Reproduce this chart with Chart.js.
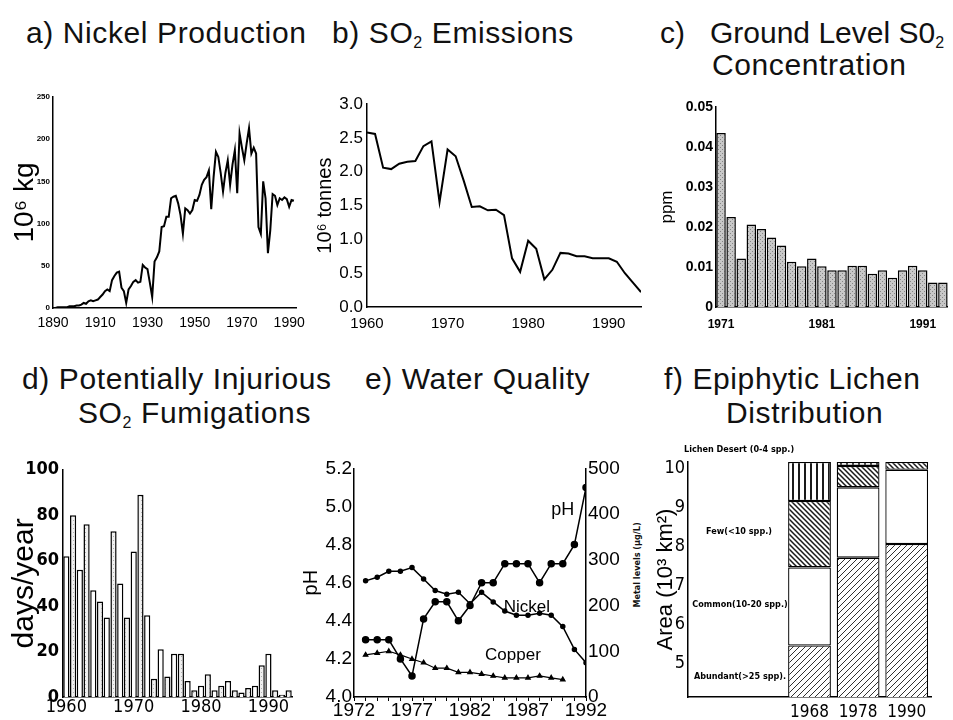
<!DOCTYPE html>
<html>
<head>
<meta charset="utf-8">
<title>Sudbury environmental trends</title>
<script src="https://cdn.jsdelivr.net/npm/chart.js@4.4.1/dist/chart.umd.min.js"></script>
<style>
  body { margin: 0; background: #fff; }
  #page { position: relative; width: 953px; height: 720px; overflow: hidden; color: #111;
          font-family: 'Liberation Sans', Arial, Helvetica, sans-serif; }
  canvas { position: absolute; }
  .t { position: absolute; font-size: 30px; line-height: 34px; white-space: nowrap; letter-spacing: 0.6px; }
  .t sub { font-size: 16px; line-height: 0; vertical-align: -5px; }
  .side { position: absolute; font: bold 9px 'Liberation Sans Narrow', 'DejaVu Sans Condensed', 'Liberation Sans', sans-serif;
          white-space: nowrap; transform: rotate(-90deg); }
</style>
</head>
<body>
<div id="page">
  <div class="t" style="left:26px;top:16px">a) Nickel Production</div>
  <div class="t" style="left:332px;top:16px">b) SO<sub>2</sub> Emissions</div>
  <div class="t" style="left:660px;top:16px;letter-spacing:0">c)&nbsp;&nbsp; Ground Level S0<sub>2</sub></div>
  <div class="t" style="left:712px;top:48px">Concentration</div>

  <div class="t" style="left:22px;top:362px">d) Potentially Injurious</div>
  <div class="t" style="left:78px;top:396px">SO<sub>2</sub> Fumigations</div>
  <div class="t" style="left:365px;top:362px">e) Water Quality</div>
  <div class="t" style="left:664px;top:362px">f) Epiphytic Lichen</div>
  <div class="t" style="left:726px;top:396px">Distribution</div>

  <div class="side" style="left:594px;top:560px">Metal levels (µg/L)</div>

  <canvas id="chartA" width="312" height="245" style="left:0;top:88px"></canvas>
  <canvas id="chartB" width="335" height="245" style="left:312px;top:90px"></canvas>
  <canvas id="chartC" width="313" height="235" style="left:640px;top:95px"></canvas>
  <canvas id="chartD" width="300" height="265" style="left:0;top:455px"></canvas>
  <canvas id="chartE" width="347" height="265" style="left:298px;top:455px"></canvas>
  <canvas id="chartF" width="313" height="280" style="left:640px;top:440px"></canvas>
</div>

<script>
// ---- a) Nickel production, 10^6 kg per year
const nickelYears = [
  1890, 1891, 1892, 1893, 1894, 1895, 1896, 1897, 1898, 1899,
  1900, 1901, 1902, 1903, 1904, 1905, 1906, 1907, 1908, 1909,
  1910, 1911, 1912, 1913, 1914, 1915, 1916, 1917, 1918, 1919,
  1920, 1921, 1922, 1923, 1924, 1925, 1926, 1927, 1928, 1929,
  1930, 1931, 1932, 1933, 1934, 1935, 1936, 1937, 1938, 1939,
  1940, 1941, 1942, 1943, 1944, 1945, 1946, 1947, 1948, 1949,
  1950, 1951, 1952, 1953, 1954, 1955, 1956, 1957, 1958, 1959,
  1960, 1961, 1962, 1963, 1964, 1965, 1966, 1967, 1968, 1969,
  1970, 1971, 1972, 1973, 1974, 1975, 1976, 1977, 1978, 1979,
  1980, 1981, 1982, 1983, 1984, 1985, 1986, 1987, 1988, 1989,
  1990, 1991, 1992
];
const nickelOutput = [
  0, 0, 1, 1, 1, 1, 1, 2, 2, 2,
  3, 3, 4, 6, 5, 8, 9, 8, 9, 10,
  13, 16, 20, 22, 20, 33, 38, 42, 43, 24,
  20, 6, 22, 26, 31, 33, 30, 31, 51, 48,
  46, 30, 13, 55, 60, 67, 96, 97, 108, 108,
  130, 132, 133, 124, 110, 88, 118, 116, 112, 116,
  128, 127, 134, 146, 152, 155, 163, 117, 155, 185,
  179, 160, 138, 160, 175, 146, 170, 187, 136, 207,
  190, 175, 195, 213, 183, 190, 183, 96, 88, 150,
  130, 65, 92, 135, 133, 122, 130, 128, 131, 129,
  120, 128, 127
];
const nickelTickYears = [1890, 1910, 1930, 1950, 1970, 1990];
const nickelTicks = [0, 50, 100, 150, 200, 250];

// ---- b) SO2 emissions, 10^6 tonnes
const so2Years = [
  1960, 1961, 1962, 1963, 1964, 1965, 1966, 1967, 1968, 1969,
  1970, 1971, 1972, 1973, 1974, 1975, 1976, 1977, 1978, 1979,
  1980, 1981, 1982, 1983, 1984, 1985, 1986, 1987, 1988, 1989,
  1990, 1991, 1992, 1993, 1994
];
const so2Emissions = [
  2.58, 2.56, 2.06, 2.04, 2.12, 2.15, 2.16, 2.38, 2.45, 1.55,
  2.33, 2.23, 1.87, 1.48, 1.49, 1.43, 1.44, 1.36, 0.72, 0.52,
  0.98, 0.86, 0.41, 0.55, 0.80, 0.79, 0.75, 0.75, 0.72, 0.72,
  0.72, 0.67, 0.50, 0.36, 0.22
];
const so2TickYears = [1960, 1970, 1980, 1990];
const so2Ticks = [0, 0.5, 1.0, 1.5, 2.0, 2.5, 3.0];

// ---- c) Ground level SO2, ppm
const groundYears = [
  '1971', '1972', '1973', '1974', '1975', '1976', '1977', '1978', '1979', '1980',
  '1981', '1982', '1983', '1984', '1985', '1986', '1987', '1988', '1989', '1990',
  '1991', '1992', '1993'
];
const groundPpm = [
  0.0435, 0.0225, 0.0121, 0.0206, 0.0195, 0.0174, 0.0154, 0.0113, 0.0102, 0.0121,
  0.0102, 0.0092, 0.0092, 0.0103, 0.0103, 0.0083, 0.0092, 0.0073, 0.0092, 0.0103,
  0.0092, 0.0061, 0.0061
];
const groundTickLabels = ['1971', '1981', '1991'];
const groundTicks = [0, 0.01, 0.02, 0.03, 0.04, 0.05];

// ---- d) Potentially injurious SO2 fumigations, days/year
const fumigationYears = [
  '1960', '1961', '1962', '1963', '1964', '1965', '1966', '1967', '1968', '1969',
  '1970', '1971', '1972', '1973', '1974', '1975', '1976', '1977', '1978', '1979',
  '1980', '1981', '1982', '1983', '1984', '1985', '1986', '1987', '1988', '1989',
  '1990', '1991', '1992', '1993'
];
const fumigationDays = [
  62, 80, 56, 76, 47, 42, 35, 73, 50, 35,
  64, 89, 36, 8, 21, 9, 19, 19, 7, 3,
  5, 10, 3, 5, 7, 3, 2, 4, 5, 14,
  19, 3, 1, 3
];
const fumigationTickLabels = ['1960', '1970', '1980', '1990'];
const fumigationTicks = [0, 20, 40, 60, 80, 100];

// ---- e) Water quality: pH (left) and metal levels in ug/L (right)
const waterYears = [
  1973, 1974, 1975, 1976, 1977, 1978, 1979, 1980, 1981, 1982,
  1983, 1984, 1985, 1986, 1987, 1988, 1989, 1990, 1991, 1992
];
const lakePH = [
  4.30, 4.30, 4.30, 4.20, 4.11, 4.41, 4.50, 4.50, 4.40, 4.48,
  4.60, 4.60, 4.70, 4.70, 4.70, 4.60, 4.70, 4.70, 4.80, 5.10
];
const nickelLevel = [
  254, 262, 275, 275, 283, 258, 233, 225, 229, 204,
  229, 208, 188, 179, 179, 183, 179, 154, 104, 75
];
const copperYears = [
  1973, 1974, 1975, 1976, 1977, 1978, 1979, 1980, 1981, 1982,
  1983, 1984, 1985, 1986, 1987, 1988, 1989, 1990
];
const copperLevel = [
  92, 96, 100, 92, 83, 75, 63, 63, 54, 54,
  50, 46, 42, 42, 42, 46, 42, 38
];
const waterTickYears = [1972, 1977, 1982, 1987, 1992];
const phTicks = [4.0, 4.2, 4.4, 4.6, 4.8, 5.0, 5.2];
const metalTicks = [0, 100, 200, 300, 400, 500];

// ---- f) Epiphytic lichen distribution, area 10^3 km2 (stacked)
const lichenYears = ['1968', '1978', '1990'];
const lichenAbundant = [5.45, 7.70, 8.05];
const lichenCommon = [2.00, 1.80, 1.90];
const lichenFew = [1.70, 0.55, 0.20];
const lichenDesert = [1.00, 0.10, 0];
const lichenClasses = ['Abundant(>25 spp).', 'Common(10-20 spp.)', 'Few(<10 spp.)', 'Lichen Desert (0-4 spp.)'];
const lichenTicks = [5, 6, 7, 8, 9, 10];


Chart.defaults.font.family = "'Liberation Sans', Arial, sans-serif";
Chart.defaults.color = '#000';
Chart.defaults.animation = false;
Chart.defaults.plugins.legend.display = false;
Chart.defaults.plugins.tooltip.enabled = false;

const narrow = "'Liberation Sans Narrow', 'DejaVu Sans Condensed', 'Liberation Sans', Arial, sans-serif";
const axisBorder = { display: true, color: '#000', width: 1.5 };
const noGrid = { display: false, drawTicks: false, tickLength: 0 };

// Helpers to pin the axis boxes so every panel lines up like the original figure
function fixedWidth(w) { return scale => { scale.width = w; }; }
function fixedHeight(h) { return scale => { scale.height = h; }; }
function useTicks(list) { return scale => { scale.ticks = list.map(v => ({ value: v })); }; }

// Text drawn inside a chart at data coordinates
const textLabels = {
  id: 'textLabels',
  afterDraw(chart, args, opts) {
    if (!opts.items) return;
    const ctx = chart.ctx;
    ctx.save();
    ctx.fillStyle = '#000';
    ctx.textAlign = 'center';
    ctx.textBaseline = 'middle';
    opts.items.forEach(item => {
      ctx.font = item.font;
      const x = chart.scales.x.getPixelForValue(item.x);
      const y = chart.scales[item.axis || 'y'].getPixelForValue(item.y);
      ctx.fillText(item.text, x, y);
    });
    ctx.restore();
  }
};
Chart.register(textLabels);

// Fill patterns (hatching / stipple) for the bar panels
function makePattern(size, base, draw) {
  const c = document.createElement('canvas');
  c.width = size; c.height = size;
  const g = c.getContext('2d');
  g.fillStyle = base;
  g.fillRect(0, 0, size, size);
  g.strokeStyle = '#1a1a1a';
  g.fillStyle = '#1a1a1a';
  draw(g, size);
  return g.createPattern(c, 'repeat');
}
const stippleGray = makePattern(4, '#c8c8c8', (g) => {
  g.fillStyle = '#858585';
  g.fillRect(0, 0, 1, 1);
  g.fillRect(2, 2, 1, 1);
});
const stippleLight = makePattern(4, '#f0f0f0', (g) => {
  g.fillStyle = '#b0b0b0';
  g.fillRect(1, 1, 1, 1);
});
const slashFill = makePattern(6, '#fff', (g, s) => {
  g.lineWidth = 0.9;
  g.beginPath();
  g.moveTo(0, s); g.lineTo(s, 0);
  g.moveTo(-1, 1); g.lineTo(1, -1);
  g.moveTo(s - 1, s + 1); g.lineTo(s + 1, s - 1);
  g.stroke();
});
const backslashFill = makePattern(5, '#fff', (g, s) => {
  g.lineWidth = 1.5;
  g.beginPath();
  g.moveTo(0, 0); g.lineTo(s, s);
  g.moveTo(s - 1, -1); g.lineTo(s + 1, 1);
  g.moveTo(-1, s - 1); g.lineTo(1, s + 1);
  g.stroke();
});
const verticalFill = makePattern(6, '#fff', (g) => {
  g.fillRect(2, 0, 2, 6);
});


// a) Nickel Production
new Chart(document.getElementById('chartA'), {
  type: 'line',
  data: {
    datasets: [{
      data: nickelYears.map((yr, i) => ({ x: yr, y: nickelOutput[i] })),
      borderColor: '#000',
      borderWidth: 2,
      pointRadius: 0,
      tension: 0
    }]
  },
  options: {
    responsive: false,
    layout: { padding: { top: 9, right: 9, left: 0, bottom: 0 } },
    scales: {
      x: {
        type: 'linear', min: 1890, max: 1993,
        afterBuildTicks: useTicks(nickelTickYears), afterFit: fixedHeight(25),
        grid: noGrid, border: axisBorder,
        ticks: { font: { size: 14 }, padding: 7, maxRotation: 0, autoSkip: false, callback: v => String(v) }
      },
      y: {
        min: 0, max: 250,
        afterBuildTicks: useTicks(nickelTicks), afterFit: fixedWidth(53),
        grid: noGrid, border: axisBorder,
        ticks: { font: { size: 8, weight: 'bold' }, padding: 3, autoSkip: false },
        title: { display: true, text: '10⁶ kg', font: { size: 28 }, padding: { top: 8, bottom: 0 } }
      }
    }
  }
});

// b) SO2 Emissions
new Chart(document.getElementById('chartB'), {
  type: 'line',
  data: {
    datasets: [{
      data: so2Years.map((yr, i) => ({ x: yr, y: so2Emissions[i] })),
      borderColor: '#000',
      borderWidth: 2,
      pointRadius: 0,
      tension: 0
    }]
  },
  options: {
    responsive: false,
    layout: { padding: { top: 13, right: 6, left: 0, bottom: 0 } },
    scales: {
      x: {
        type: 'linear', min: 1960, max: 1994,
        afterBuildTicks: useTicks(so2TickYears), afterFit: fixedHeight(28),
        grid: noGrid, border: axisBorder,
        ticks: { font: { size: 15 }, padding: 8, maxRotation: 0, autoSkip: false, callback: v => String(v) }
      },
      y: {
        min: 0, max: 3,
        afterBuildTicks: useTicks(so2Ticks), afterFit: fixedWidth(55),
        grid: noGrid, border: axisBorder,
        ticks: { font: { size: 17 }, padding: 4, autoSkip: false, callback: v => v.toFixed(1) },
        title: { display: true, text: '10⁶ tonnes', font: { size: 20 }, padding: { top: 1, bottom: 0 } }
      }
    }
  }
});

// c) Ground Level SO2 Concentration
new Chart(document.getElementById('chartC'), {
  type: 'bar',
  data: {
    labels: groundYears,
    datasets: [{
      data: groundPpm,
      backgroundColor: stippleGray,
      borderColor: '#000',
      borderWidth: 1.5,
      borderSkipped: 'bottom',
      barPercentage: 0.94,
      categoryPercentage: 1
    }]
  },
  options: {
    responsive: false,
    layout: { padding: { top: 12, right: 5, left: 0, bottom: 0 } },
    scales: {
      x: {
        afterFit: fixedHeight(23),
        grid: { display: false, drawTicks: false, tickLength: 0, offset: true }, border: axisBorder,
        ticks: {
          font: { size: 12, weight: 'bold' }, padding: 10, maxRotation: 0, autoSkip: false,
          callback: (v, i) => groundTickLabels.includes(groundYears[i]) ? groundYears[i] : ''
        }
      },
      y: {
        min: 0, max: 0.05,
        afterBuildTicks: useTicks(groundTicks), afterFit: fixedWidth(76),
        grid: noGrid, border: axisBorder,
        ticks: { font: { size: 14, weight: 'bold' }, padding: 3, autoSkip: false, callback: v => v === 0 ? '0' : v.toFixed(2) },
        title: { display: true, text: 'ppm', font: { size: 17 }, padding: { top: 17, bottom: 0 } }
      }
    }
  }
});

// d) Potentially Injurious SO2 Fumigations
new Chart(document.getElementById('chartD'), {
  type: 'bar',
  data: {
    labels: fumigationYears,
    datasets: [{
      data: fumigationDays,
      backgroundColor: fumigationDays.map((v, i) => i % 2 ? stippleLight : '#fff'),
      borderColor: '#000',
      borderWidth: 1.5,
      borderSkipped: 'bottom',
      barPercentage: 0.92,
      categoryPercentage: 1
    }]
  },
  options: {
    responsive: false,
    layout: { padding: { top: 12, right: 8, left: 0, bottom: 0 } },
    scales: {
      x: {
        afterFit: fixedHeight(23),
        grid: { display: false, drawTicks: false, tickLength: 0, offset: true }, border: axisBorder,
        ticks: {
          font: { size: 18, family: narrow }, padding: 0, maxRotation: 0, autoSkip: false,
          callback: (v, i) => fumigationTickLabels.includes(fumigationYears[i]) ? fumigationYears[i] : ''
        }
      },
      y: {
        min: 0, max: 100,
        afterBuildTicks: useTicks(fumigationTicks), afterFit: fixedWidth(63),
        grid: noGrid, border: axisBorder,
        ticks: { font: { size: 18, weight: 'bold', family: narrow }, padding: 4, autoSkip: false },
        title: { display: true, text: 'days/year', font: { size: 30 }, padding: { top: 7, bottom: 0 } }
      }
    }
  }
});

// e) Water Quality
new Chart(document.getElementById('chartE'), {
  type: 'line',
  data: {
    datasets: [
      {
        data: waterYears.map((yr, i) => ({ x: yr, y: lakePH[i] })),
        yAxisID: 'y',
        borderColor: '#000', backgroundColor: '#000', borderWidth: 1.5,
        pointRadius: 3, pointStyle: 'circle', tension: 0
      },
      {
        data: waterYears.map((yr, i) => ({ x: yr, y: nickelLevel[i] })),
        yAxisID: 'y2',
        borderColor: '#000', backgroundColor: '#000', borderWidth: 1.5,
        pointRadius: 2, pointStyle: 'circle', tension: 0
      },
      {
        data: copperYears.map((yr, i) => ({ x: yr, y: copperLevel[i] })),
        yAxisID: 'y2',
        borderColor: '#000', backgroundColor: '#000', borderWidth: 1.2,
        pointRadius: 2.6, pointStyle: 'triangle', tension: 0
      }
    ]
  },
  options: {
    responsive: false,
    layout: { padding: { top: 10, right: 0, left: 0, bottom: 0 } },
    scales: {
      x: {
        type: 'linear', min: 1972, max: 1992,
        afterBuildTicks: useTicks([1972].concat(waterYears)), afterFit: fixedHeight(23),
        grid: { display: true, drawOnChartArea: false, drawTicks: true, tickLength: 4, color: '#000', lineWidth: 1 },
        border: axisBorder,
        ticks: {
          font: { size: 19 }, padding: -2, maxRotation: 0, autoSkip: false,
          callback: v => waterTickYears.includes(v) ? String(v) : ''
        }
      },
      y: {
        position: 'left', min: 4.0, max: 5.2,
        afterBuildTicks: useTicks(phTicks), afterFit: fixedWidth(56),
        grid: noGrid, border: axisBorder,
        ticks: { font: { size: 19 }, padding: 2, autoSkip: false, callback: v => v.toFixed(1) },
        title: { display: true, text: 'pH', font: { size: 20 }, padding: { top: 1, bottom: 0 } }
      },
      y2: {
        position: 'right', min: 0, max: 500,
        afterBuildTicks: useTicks(metalTicks), afterFit: fixedWidth(59),
        grid: noGrid, border: axisBorder,
        ticks: { font: { size: 19 }, padding: 2, autoSkip: false }
      }
    },
    plugins: {
      textLabels: {
        items: [
          { text: 'pH', x: 1990, y: 4.98, font: '18px ' + Chart.defaults.font.family },
          { text: 'Nickel', x: 1986.9, y: 4.47, font: '17px ' + Chart.defaults.font.family },
          { text: 'Copper', x: 1985.7, y: 4.22, font: '17px ' + Chart.defaults.font.family }
        ]
      }
    }
  }
});

// f) Epiphytic Lichen Distribution (two empty leading slots hold the class labels)
const lichenLabels = ['', ''].concat(lichenYears);
const lead = v => [null, null].concat(v);
new Chart(document.getElementById('chartF'), {
  type: 'bar',
  data: {
    labels: lichenLabels,
    datasets: [
      { data: lead(lichenAbundant), backgroundColor: slashFill },
      { data: lead(lichenCommon), backgroundColor: '#fff' },
      { data: lead(lichenFew), backgroundColor: backslashFill },
      { data: lead(lichenDesert), backgroundColor: verticalFill }
    ].map(ds => Object.assign(ds, {
      borderColor: '#000', borderWidth: 1.3, borderSkipped: false,
      barPercentage: 0.88, categoryPercentage: 1
    }))
  },
  options: {
    responsive: false,
    layout: { padding: { top: 22, right: 22, left: 0, bottom: 0 } },
    scales: {
      x: {
        stacked: true,
        afterFit: fixedHeight(23),
        grid: { display: false, drawTicks: false, tickLength: 0, offset: true }, border: axisBorder,
        ticks: { font: { size: 17, family: narrow }, padding: 5, maxRotation: 0, autoSkip: false }
      },
      y: {
        stacked: true, min: 4.13, max: 10.15,
        afterBuildTicks: useTicks(lichenTicks), afterFit: fixedWidth(48),
        grid: noGrid, border: axisBorder,
        ticks: { font: { size: 18, family: narrow }, padding: 3, autoSkip: false },
        title: { display: true, text: 'Area (10³ km²)', font: { size: 22 }, padding: { top: 13, bottom: 0 } }
      }
    },
    plugins: {
      textLabels: {
        items: [
          { text: lichenClasses[3], x: 0.55, y: 10.46, font: 'bold 9px ' + narrow },
          { text: lichenClasses[2], x: 0.55, y: 8.36, font: 'bold 9px ' + narrow },
          { text: lichenClasses[1], x: 0.57, y: 6.49, font: 'bold 9px ' + narrow },
          { text: lichenClasses[0], x: 0.57, y: 4.64, font: 'bold 9px ' + narrow }
        ]
      }
    }
  }
});
</script>
</body>
</html>
